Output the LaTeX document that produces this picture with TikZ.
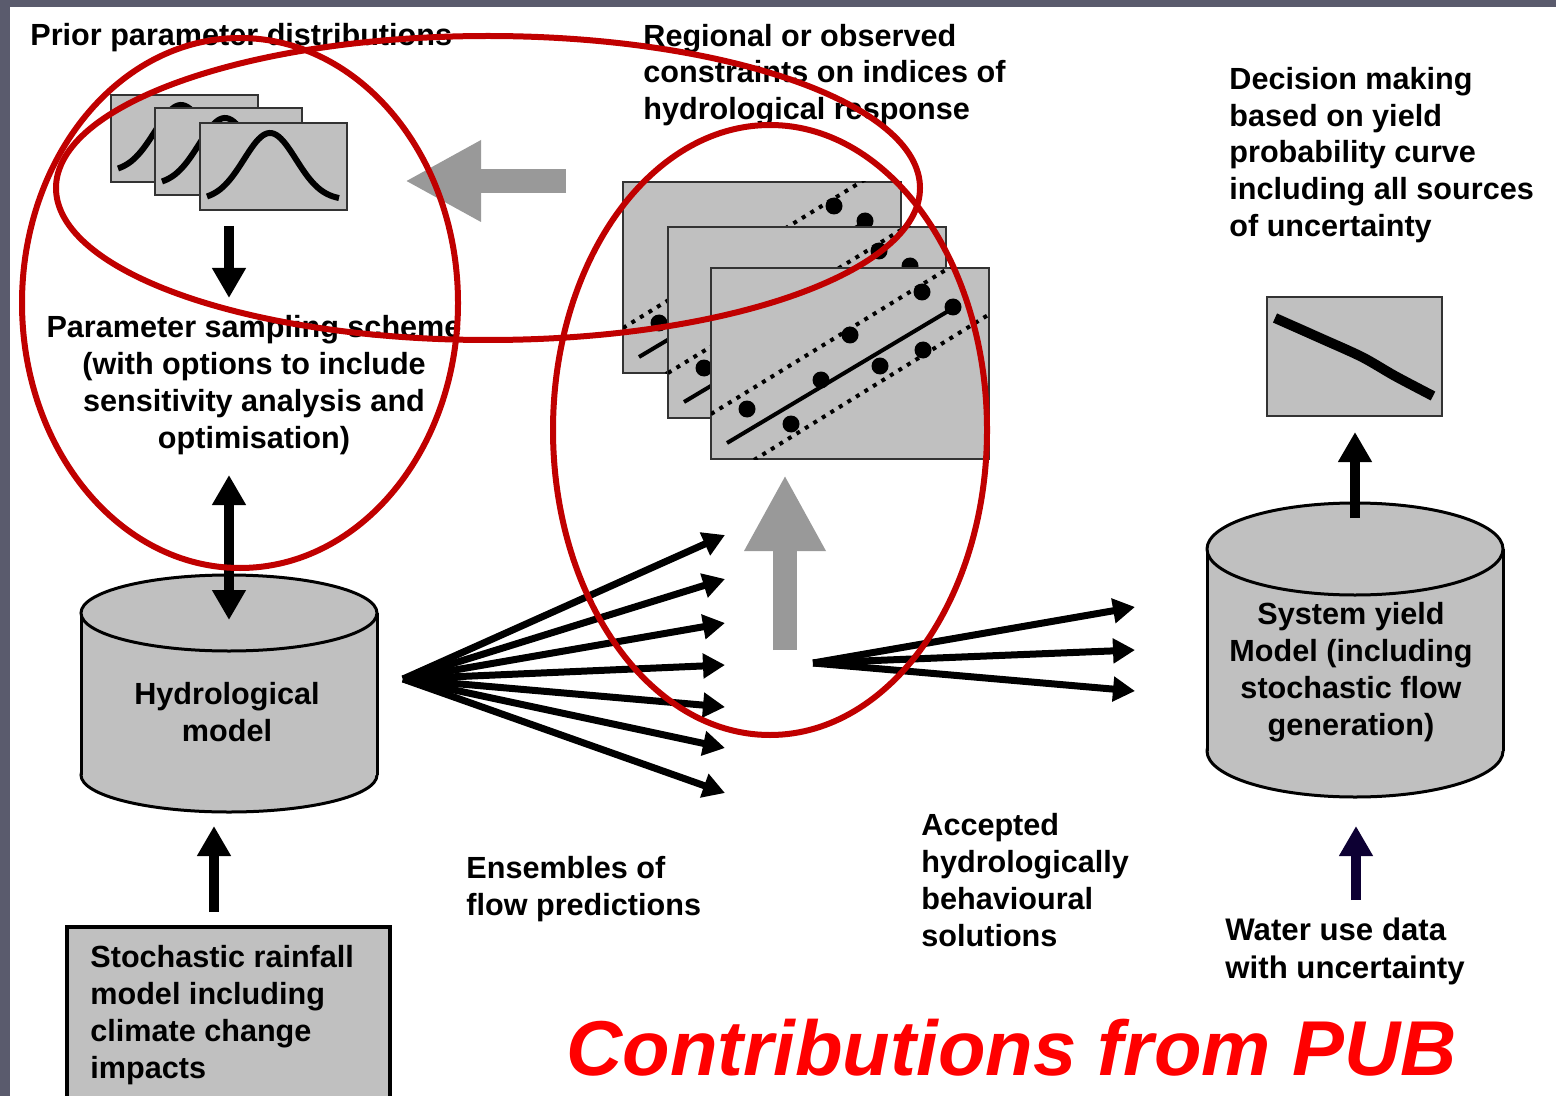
\documentclass[tikz,border=0pt]{standalone}
\usepackage{fontspec}
\setmainfont{Liberation Sans}
\usetikzlibrary{arrows.meta}
\definecolor{slidegrey}{HTML}{5A5B6D}
\definecolor{panelgrey}{HTML}{C0C0C0}
\definecolor{ringred}{HTML}{C00000}
\definecolor{bigarrow}{HTML}{999999}
\definecolor{wateruse}{HTML}{0D0033}
\definecolor{pubred}{HTML}{FF0000}

\begin{document}
\begin{tikzpicture}[x=0.5pt,y=-0.5pt,
  txt/.style={font=\fontsize{15.3}{18.4}\selectfont\bfseries,inner sep=0pt},
  panel/.style={fill=panelgrey,draw=black!80,line width=0.8pt},
  cyl/.style={fill=panelgrey,draw=black,line width=1.5pt},
  blk/.style={line width=5pt,>={Triangle[width=16pt,length=15pt]},->},
  fan/.style={line width=3.5pt,>={Triangle[width=12pt,length=11pt]},->},
  greyarrow/.style={bigarrow,line width=12pt,>={Triangle[width=38pt,length=38pt]},->},
  dotline/.style={line width=2pt,dash pattern=on 2pt off 3pt},
  ring/.style={ringred,line width=3pt}]
  \useasboundingbox (0,0) rectangle (1556,1096);
  \fill[slidegrey] (0,0) rectangle (1556,1096); \fill[white] (10,7) rectangle (1556,1096); % slide frame

  % prior distributions (three stacked panels)
  \foreach \ox/\oy in {111/95,155/108,200/123}{
    \begin{scope}[shift={(\ox,\oy)}]
      \filldraw[panel] (0,0) rectangle (147,87);
      \clip (0,0) rectangle (147,87);
      \draw[line width=3pt] plot[domain=7:139,samples=60,smooth] (\x,{77-67*exp(-0.5*pow((\x-70)/26,2))});
    \end{scope}}

  % regional constraints (three stacked scatter panels)
  \foreach \ox/\oy in {623/182,668/227,711/268}{
    \begin{scope}[shift={(\ox,\oy)}]
      \filldraw[panel] (0,0) rectangle (278,191);
      \clip (0,0) rectangle (278,191);
      \draw[line width=2pt] (16,175) -- (244,39);
      \draw[dotline] (0,146) -- (290,-32);
      \draw[dotline] (43,192) -- (290,39);
      \foreach \dx/\dy in {36/141,80/156,110/112,139/67,169/98,211/24,212/82,242/39}
        \fill (\dx,\dy) circle[radius=8.5];
    \end{scope}}

  % yield probability curve
  \filldraw[panel] (1267,297) rectangle (1442,416);
  \draw[line width=5pt] plot[smooth] coordinates {(1275,318) (1320,338) (1362,357) (1395,376) (1433,396)};

  % hydrological model cylinder
  \filldraw[cyl] (229,775) ellipse[x radius=148,y radius=37];
  \fill[panelgrey] (81,613) rectangle (377,775);
  \draw[cyl,fill=none] (81,613) -- (81,775) (377,613) -- (377,775);
  \filldraw[cyl] (229,613) ellipse[x radius=148,y radius=38];

  % system yield cylinder
  \filldraw[cyl] (1355,751) ellipse[x radius=148,y radius=46];
  \fill[panelgrey] (1207,549) rectangle (1503,751);
  \draw[cyl,fill=none] (1207,549) -- (1207,751) (1503,549) -- (1503,751);
  \filldraw[cyl] (1355,549) ellipse[x radius=148,y radius=46];

  \draw[line width=1.75pt,fill=panelgrey] (67,927) rectangle (390,1110); % rainfall box, runs off the slide

  % arrows
  \coordinate (distfoot) at (229,226); \coordinate (samplehead) at (229,298);
  \draw[blk] (distfoot) -- (samplehead);
  \coordinate (samplefoot) at (229,475); \coordinate (hydrotop) at (229,620);
  \draw[blk,<->] (samplefoot) -- (hydrotop);
  \coordinate (rainhead) at (214,912); \coordinate (hydrofoot) at (214,826);
  \draw[blk] (rainhead) -- (hydrofoot);
  \coordinate (systop) at (1355,518); \coordinate (curvefoot) at (1355,432);
  \draw[blk] (systop) -- (curvefoot);
  \coordinate (waterhead) at (1356,900); \coordinate (sysfoot) at (1356,826);
  \draw[blk,wateruse] (waterhead) -- (sysfoot);
  \coordinate (constrleft) at (566,181); \coordinate (distright) at (405,181);
  \draw[greyarrow] (constrleft) -- (distright);
  \coordinate (acceptfoot) at (785,650); \coordinate (constrfoot) at (785,475);
  \draw[greyarrow] (acceptfoot) -- (constrfoot);

  \coordinate (fanroot) at (403,679); % ensembles of flow predictions
  \foreach \ty [count=\i] in {535,579,623,665,707,748,793}{
    \coordinate (ens\i) at (725,\ty);
    \draw[fan] (fanroot) -- (ens\i);}
  \coordinate (acceptroot) at (813,663); % accepted solutions
  \foreach \ty [count=\i] in {607,650,691}{
    \coordinate (acc\i) at (1135,\ty);
    \draw[fan] (acceptroot) -- (acc\i);}

  % labels
  \node[txt,anchor=west] (prior) at (30,38) {Prior parameter distributions};
  \node[txt,align=center] (sampling) at (254,385) {Parameter sampling scheme\\(with options to include\\sensitivity analysis and\\optimisation)};
  \node[txt,align=left,anchor=west] (regional) at (643,75) {Regional or observed\\constraints on indices of\\hydrological response};
  \node[txt,align=left,anchor=west] (decision) at (1229,155) {Decision making\\based on yield\\probability curve\\including all sources\\of uncertainty};
  \node[txt,align=center] (hydro) at (227,712) {Hydrological\\model};
  \node[txt,align=left,anchor=west] (rain) at (90,1015) {Stochastic rainfall\\model including\\climate change\\impacts};
  \node[txt,align=left,anchor=west] (ensembles) at (466,889) {Ensembles of\\flow predictions};
  \node[txt,align=left,anchor=west] (accepted) at (921,880) {Accepted\\hydrologically\\behavioural\\solutions};
  \node[txt,align=center] (system) at (1351,672) {System yield\\Model (including\\stochastic flow\\generation)};
  \node[txt,font=\fontsize{15.6}{19}\selectfont\bfseries,align=left,anchor=west] (water) at (1225,951) {Water use data\\with uncertainty};

  % red rings on top
  \draw[ring] (240,303) ellipse[x radius=218,y radius=265];
  \draw[ring] (488,188) ellipse[x radius=432,y radius=152];
  \draw[ring] (770,430) ellipse[x radius=217,y radius=305];

  \node[font=\fontsize{38.9}{40}\selectfont\bfseries\itshape,text=pubred,inner sep=0pt,anchor=base west] (pubtitle) at (566,1075) {Contributions from PUB};
\end{tikzpicture}
\end{document}
